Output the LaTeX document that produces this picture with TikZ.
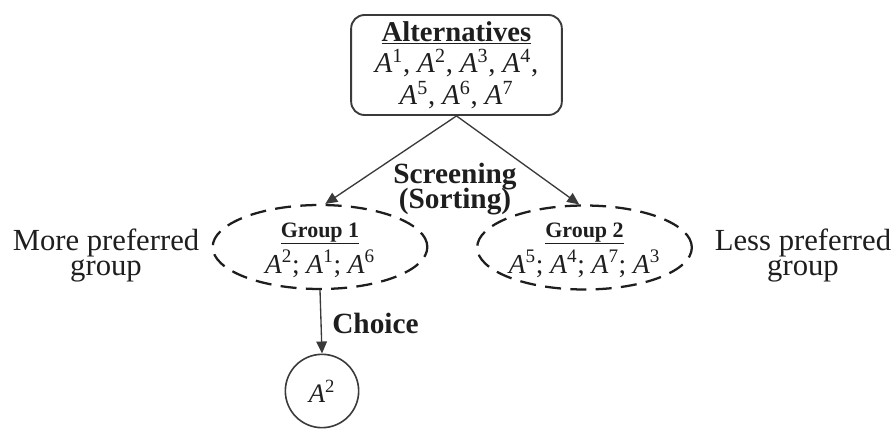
\documentclass[tikz,border=0pt]{standalone}
\usepackage{fontspec}
\setmainfont{Liberation Serif}
\usetikzlibrary{shapes.geometric,arrows.meta}
\newcommand{\Alt}[1]{\textit{A}\textsuperscript{#1}}
\definecolor{ink}{HTML}{1E1E1E}
\definecolor{edge}{HTML}{3A3A3A}
\tikzset{
  bigtext/.style={font=\fontsize{23}{19}\selectfont, text=ink, anchor=base, inner sep=0pt},
  boldtext/.style={font=\bfseries\fontsize{22}{19}\selectfont, text=ink, anchor=base, inner sep=0pt},
  headtext/.style={font=\bfseries\fontsize{16.5}{19}\selectfont, text=ink, anchor=base, inner sep=0pt},
  itemtext/.style={font=\fontsize{20.5}{19}\selectfont, text=ink, anchor=base, inner sep=0pt},
  altbox/.style={draw=edge, line width=1.4pt, rounded corners=10pt,
    minimum width=158pt, minimum height=75pt, align=center, inner sep=0pt,
    font=\fontsize{21.5}{24}\selectfont, text=ink},
  groupbox/.style={ellipse, draw=ink, line width=1.7pt, dash pattern=on 12pt off 7pt,
    minimum width=161pt, minimum height=63pt, inner sep=0pt},
  pick/.style={circle, draw=edge, line width=1.2pt, minimum size=55pt, inner sep=0pt,
    font=\fontsize{20}{19}\selectfont, text=ink},
  link/.style={draw=edge, line width=1pt, -{Triangle[length=9pt,width=8pt]}},
}
\begin{document}
\begin{tikzpicture}[x=0.75pt,y=-0.75pt]
  \useasboundingbox (0,0) rectangle (894,432);

  % set of alternatives
  \node[altbox] (alt) at (456.5,65)
    {\textbf{\underline{Alternatives}}\\[-1pt]
     \Alt{1}, \Alt{2}, \Alt{3}, \Alt{4},\\
     \Alt{5}, \Alt{6}, \Alt{7}};

  % the two groups after screening
  \node[groupbox] (g1) at (320,247) {};
  \node[headtext] (g1head) at (320,237) {\underline{Group 1}};
  \node[itemtext] (g1items) at (320,273) {\Alt{2}; \Alt{1}; \Alt{6}};

  \node[groupbox] (g2) at (584.5,247.5) {};
  \node[headtext] (g2head) at (584.5,237) {\underline{Group 2}};
  \node[itemtext] (g2items) at (584.5,273) {\Alt{5}; \Alt{4}; \Alt{7}; \Alt{3}};

  % the chosen alternative
  \node[pick] (best) at (322,391) {\Alt{2}};

  % labels
  \node[boldtext] (screen) at (455,183) {Screening};
  \node[boldtext] (sort) at (455,208) {(Sorting)};
  \node[bigtext] (more) at (106,250) {More preferred};
  \node[bigtext] (moreg) at (106,275) {group};
  \node[bigtext] (less) at (803,250) {Less preferred};
  \node[bigtext] (lessg) at (803,275) {group};
  \node[boldtext, anchor=base west] (choice) at (332,333) {Choice};

  % connectors
  \draw[link] (alt.south) -- (g1.83);
  \draw[link] (alt.south) -- (g2.97);
  \draw[link] (g1.south) -- (best.north);
\end{tikzpicture}
\end{document}
